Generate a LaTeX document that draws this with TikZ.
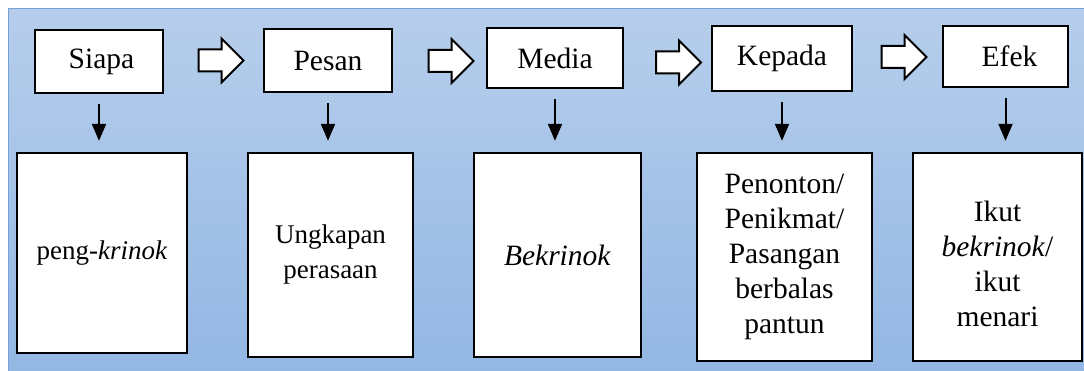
\documentclass[tikz,border=0pt]{standalone}
\usepackage{fontspec}
\setmainfont{Liberation Serif}
\usetikzlibrary{arrows.meta,shapes.arrows}
\definecolor{bgTop}{RGB}{182,206,235}
\definecolor{bgBot}{RGB}{146,182,227}
\definecolor{bgLine}{RGB}{118,160,216}

\begin{document}
\begin{tikzpicture}[x=1pt, y=-1pt,
    head/.style={rectangle, draw=black, fill=white, line width=2.4pt,
                 inner sep=0pt, font=\fontsize{29.5}{35}\selectfont},
    isi/.style={head, align=center},
    blk/.style={single arrow, draw=black, fill=white, line width=2pt,
                minimum height=45pt, text height=20pt, text depth=0pt,
                text width=0pt, single arrow head extend=11pt, inner sep=0pt},
    turun/.style={-{Triangle[width=14pt,length=17pt]}, line width=2pt,
                  shorten <=10pt, shorten >=11pt}
  ]
  \useasboundingbox (0,0) rectangle (1084,371);
  \shade[top color=bgTop, bottom color=bgBot, draw=bgLine, line width=1pt]
    (8.5,9) rectangle (1095,385);

  % atas
  \node[head, minimum width=128pt, minimum height=63pt] (siapa)  at (99,61.5)   {\hspace{5pt}Siapa};
  \node[head, minimum width=128pt, minimum height=63pt] (pesan)  at (328,60.5)  {Pesan};
  \node[head, minimum width=136pt, minimum height=60pt] (media)  at (555,58)    {Media};
  \node[head, minimum width=140pt, minimum height=65pt] (kepada) at (782,58.5)  {Kepada};
  \node[head, minimum width=125pt, minimum height=61pt] (efek)   at (1005.5,56.5) {\hspace{8pt}Efek};

  \node[blk] (a1) at (215.5,60.5) {};
  \node[blk] (a2) at (445.5,61)   {};
  \node[blk] (a3) at (673,62.5)   {};
  \node[blk] (a4) at (898.5,57)   {};

  % bawah
  \node[isi, minimum width=170pt, minimum height=200pt,
        font=\fontsize{27}{32}\selectfont] (pengkrinok) at (102,253) {peng-\textit{krinok}};
  \node[isi, minimum width=165pt, minimum height=204pt,
        font=\fontsize{27}{35}\selectfont] (ungkapan) at (330.5,255) {\mbox{}\\[-18pt]Ungkapan\\perasaan};
  \node[isi, minimum width=167pt, minimum height=204pt] (bekrinok) at (557.5,255) {\textit{Bekrinok}};
  \node[isi, minimum width=175pt, minimum height=208pt] (penonton) at (784.5,257)
    {Penonton/\\Penikmat/\\Pasangan\\berbalas\\pantun};
  \node[isi, minimum width=169pt, minimum height=208pt] (ikut) at (997.5,257)
    {\mbox{}\\Ikut\\\textit{bekrinok}/\\ikut\\menari};

  \draw[turun] (siapa.south)  -- (siapa.south  |- pengkrinok.north);
  \draw[turun] (pesan.south)  -- (pesan.south  |- ungkapan.north);
  \draw[turun] (media.south)  -- (media.south  |- bekrinok.north);
  \draw[turun] (kepada.south) -- (kepada.south |- penonton.north);
  \draw[turun] (efek.south)   -- (efek.south   |- ikut.north);
\end{tikzpicture}
\end{document}
